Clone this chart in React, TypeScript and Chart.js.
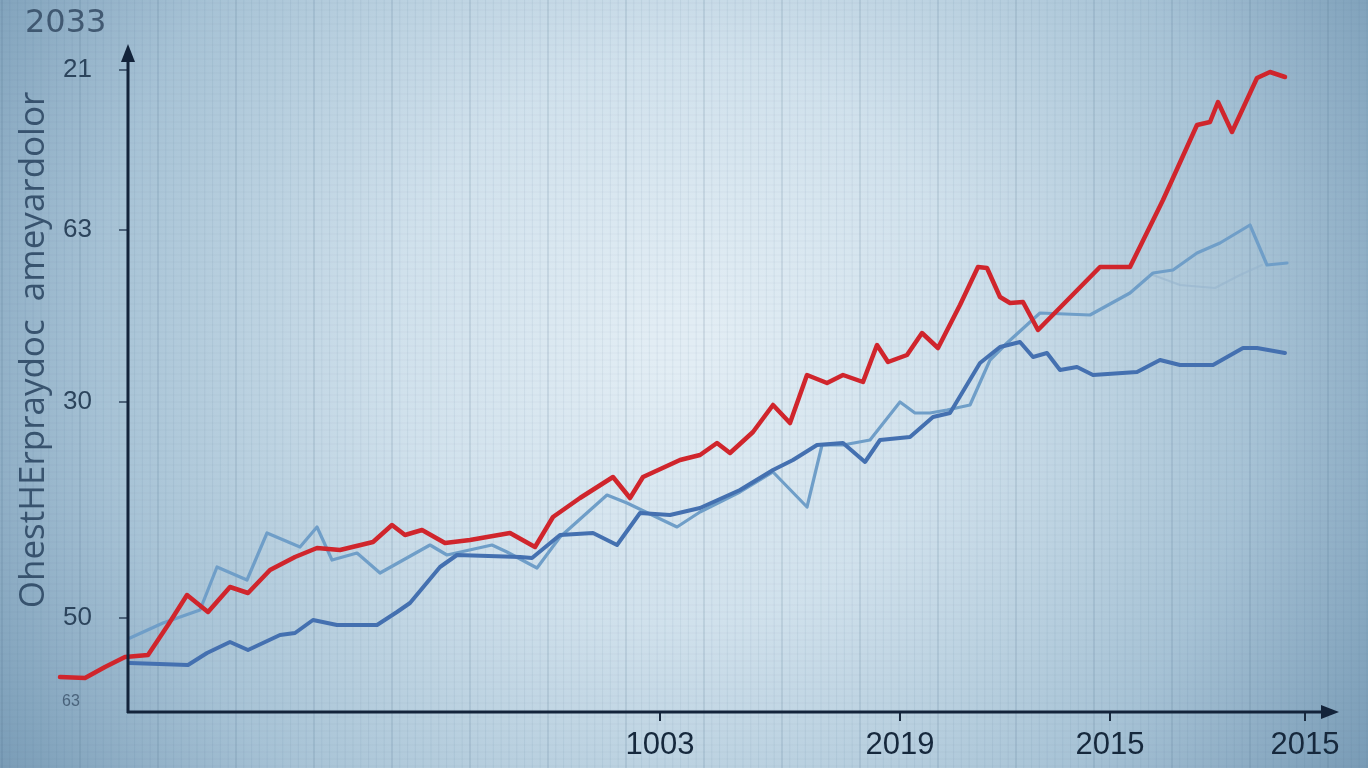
import React, { useEffect, useRef } from "react";
import { Chart, registerables } from "chart.js";

Chart.register(...registerables);

// ---- data ----
const redX = [-6.8, -4.3, -2.3, -0.3, 2.0, 4.0, 5.9, 8.0, 10.2, 12.0, 14.2, 16.7, 18.9, 21.2, 24.5, 26.4, 27.7, 29.4, 31.7, 34.2, 38.2, 40.7, 42.5, 45.2, 48.5, 50.2, 51.5, 55.2, 57.2, 58.9, 60.2, 62.5, 64.5, 66.2, 67.9, 69.9, 71.5, 73.5, 74.9, 76.0, 77.9, 79.4, 81.0, 83.2, 85.0, 85.9, 87.2, 88.2, 89.5, 91.0, 97.2, 100.2, 103.5, 106.9, 108.2, 109.0, 110.4, 112.9, 114.2, 115.7];
const redY = [3.5, 3.4, 4.5, 5.5, 5.7, 8.7, 11.7, 10.0, 12.5, 11.9, 14.2, 15.5, 16.4, 16.2, 17.0, 18.7, 17.7, 18.2, 16.9, 17.2, 17.9, 16.5, 19.5, 21.4, 23.5, 21.4, 23.5, 25.2, 25.7, 26.9, 25.9, 28.0, 30.7, 28.9, 33.7, 32.9, 33.7, 33.0, 36.7, 35.0, 35.7, 37.9, 36.4, 40.7, 44.5, 44.4, 41.5, 40.9, 41.0, 38.2, 44.5, 44.5, 51.2, 58.7, 59.0, 61.0, 58.0, 63.4, 64.0, 63.5];

const darkX = [0.2, 6.0, 7.9, 10.2, 12.0, 15.2, 16.7, 18.5, 20.9, 24.9, 26.9, 28.2, 31.2, 32.9, 39.2, 40.4, 43.2, 46.5, 48.9, 51.2, 54.2, 57.2, 61.2, 64.5, 66.5, 68.9, 71.5, 73.7, 75.2, 78.2, 80.5, 82.2, 85.2, 87.2, 89.2, 90.5, 91.9, 93.2, 94.9, 96.5, 100.9, 103.2, 105.2, 108.5, 111.5, 112.9, 115.7];
const darkY = [4.9, 4.7, 5.9, 7.0, 6.2, 7.7, 7.9, 9.2, 8.7, 8.7, 10.0, 10.9, 14.5, 15.7, 15.5, 15.4, 17.7, 17.9, 16.7, 19.9, 19.7, 20.4, 22.2, 24.2, 25.2, 26.7, 26.9, 25.0, 27.2, 27.5, 29.5, 29.9, 34.9, 36.5, 37.0, 35.5, 35.9, 34.2, 34.5, 33.7, 34.0, 35.2, 34.7, 34.7, 36.4, 36.4, 35.9];

const lightX = [0.2, 3.5, 7.2, 8.9, 11.9, 13.9, 17.2, 18.9, 20.4, 22.9, 25.2, 30.2, 31.9, 36.4, 37.9, 40.9, 43.2, 47.9, 49.9, 54.9, 57.2, 61.2, 64.5, 67.9, 69.4, 71.5, 74.2, 77.2, 78.7, 80.2, 81.9, 84.2, 86.2, 87.9, 91.2, 96.2, 100.2, 102.5, 104.5, 106.9, 109.2, 112.2, 113.9, 115.9];
const lightY = [7.4, 8.9, 10.2, 14.5, 13.2, 17.9, 16.5, 18.5, 15.2, 15.9, 13.9, 16.7, 15.7, 16.7, 16.0, 14.4, 17.5, 21.7, 20.9, 18.5, 20.0, 22.0, 24.0, 20.5, 26.7, 26.7, 27.2, 31.0, 29.9, 29.9, 30.2, 30.7, 35.2, 36.9, 39.9, 39.7, 41.9, 43.9, 44.2, 45.9, 46.9, 48.7, 44.7, 44.9];

const faintX = [102.5, 105.2, 108.7, 111.2, 113.4];
const faintY = [43.7, 42.7, 42.4, 43.7, 44.7];

const xTickValues = [53.2, 77.2, 98.2, 117.7];
const xTickLabels = ["1003", "2019", "2015", "2015"];
const yTickValues = [9.4, 31.0, 48.2, 64.2];
const yTickLabels = ["50", "30", "63", "21"];

const topLabel = "2033";
const yTitle = "OhestHErpraydoc  ameyardolor";
const smallLabel = "63";

const toPoints = (xs: number[], ys: number[]) => xs.map((x, i) => ({ x, y: ys[i] }));

const bgPlugin = {
  id: "bgPlugin",
  beforeDraw(chart: any) {
    const { ctx, width, height } = chart;
    ctx.save();
    const g = ctx.createRadialGradient(680, 340, 30, 680, 340, 880);
    g.addColorStop(0, "#e2edf4");
    g.addColorStop(0.3, "#d0e1ec");
    g.addColorStop(0.65, "#a6c2d5");
    g.addColorStop(1, "#6a8fac");
    ctx.fillStyle = g;
    ctx.fillRect(0, 0, width, height);
    // fine grid
    for (let i = 0, x = 2; x < width; i++, x += 7.8) {
      ctx.strokeStyle = i % 10 === 0 ? "rgba(70,105,135,0.14)" : "rgba(70,105,135,0.08)";
      ctx.lineWidth = i % 10 === 0 ? 2 : 1;
      ctx.beginPath();
      ctx.moveTo(x, 0);
      ctx.lineTo(x, height);
      ctx.stroke();
    }
    ctx.strokeStyle = "rgba(70,105,135,0.05)";
    ctx.lineWidth = 1;
    for (let y = 3; y < height; y += 7) {
      ctx.beginPath();
      ctx.moveTo(0, y);
      ctx.lineTo(width, y);
      ctx.stroke();
    }
    // texts
    ctx.fillStyle = "rgba(45,68,92,0.8)";
    ctx.font = "32px 'DejaVu Sans'";
    ctx.textBaseline = "alphabetic";
    ctx.textAlign = "left";
    ctx.fillText(topLabel, 25, 32);
    ctx.font = "16px 'Liberation Sans'";
    ctx.fillStyle = "rgba(45,68,92,0.7)";
    ctx.fillText(smallLabel, 62, 706);
    ctx.save();
    ctx.translate(34, 350);
    ctx.rotate(-Math.PI / 2);
    ctx.font = "35px 'Open Sans'";
    ctx.fillStyle = "rgba(45,72,100,0.9)";
    ctx.textAlign = "center";
    ctx.textBaseline = "middle";
    ctx.fillText(yTitle, 0, 0);
    ctx.restore();
    ctx.restore();
  },
};

const axesPlugin = {
  id: "axesPlugin",
  afterDatasetsDraw(chart: any) {
    const { ctx, chartArea, scales } = chart;
    const { right, top, bottom } = chartArea;
    const left = scales.x.getPixelForValue(0);
    ctx.save();
    // y tick marks
    ctx.strokeStyle = "rgba(40,60,85,0.7)";
    ctx.lineWidth = 2;
    yTickValues.forEach((v) => {
      const y = scales.y.getPixelForValue(v);
      ctx.beginPath();
      ctx.moveTo(left - 9, y);
      ctx.lineTo(left, y);
      ctx.stroke();
    });
    ctx.strokeStyle = "#13233a";
    ctx.fillStyle = "#13233a";
    ctx.lineWidth = 3;
    ctx.lineCap = "butt";
    ctx.beginPath();
    ctx.moveTo(left, bottom + 1);
    ctx.lineTo(left, top + 8);
    ctx.moveTo(left - 1, bottom);
    ctx.lineTo(right - 6, bottom);
    ctx.stroke();
    ctx.beginPath();
    ctx.moveTo(left, top - 6);
    ctx.lineTo(left - 7, top + 12);
    ctx.lineTo(left + 7, top + 12);
    ctx.closePath();
    ctx.fill();
    ctx.beginPath();
    ctx.moveTo(right + 4, bottom);
    ctx.lineTo(right - 14, bottom - 7);
    ctx.lineTo(right - 14, bottom + 7);
    ctx.closePath();
    ctx.fill();
    ctx.restore();
  },
};

export default function App() {
  const ref = useRef<HTMLCanvasElement | null>(null);
  useEffect(() => {
    if (!ref.current) return;
    const chart = new Chart(ref.current, {
      type: "line",
      data: {
        datasets: [
          {
            label: "red",
            data: toPoints(redX, redY),
            borderColor: "#d0252c",
            borderWidth: 4.5,
            clip: false,
          },
          {
            label: "dark",
            data: toPoints(darkX, darkY),
            borderColor: "#4470b0",
            borderWidth: 4,
            clip: false,
          },
          {
            label: "light",
            data: toPoints(lightX, lightY),
            borderColor: "#6f9ec8",
            borderWidth: 3.2,
            clip: false,
          },
          {
            label: "faint",
            data: toPoints(faintX, faintY),
            borderColor: "rgba(150,180,205,0.6)",
            borderWidth: 2,
            clip: false,
          },
        ] as any,
      },
      options: {
        responsive: false,
        animation: false,
        events: [],
        layout: { padding: { top: 50, right: 33, left: 0, bottom: 0 } },
        elements: {
          point: { radius: 0 },
          line: { tension: 0, borderJoinStyle: "round", borderCapStyle: "round" },
        },
        plugins: { legend: { display: false }, tooltip: { enabled: false }, title: { display: false } },
        scales: {
          x: {
            type: "linear",
            min: -7,
            max: 120.7,
            afterFit: (s: any) => {
              s.height = 56;
            },
            afterBuildTicks: (s: any) => {
              s.ticks = xTickValues.map((v) => ({ value: v }));
            },
            ticks: {
              callback: (_v: any, i: number) => xTickLabels[i],
              color: "#16283c",
              font: { family: "'Liberation Sans'", size: 31 },
              padding: 6,
              maxRotation: 0,
              autoSkip: false,
            },
            grid: { drawOnChartArea: false, drawTicks: true, tickLength: 9, color: "#1a2b40", lineWidth: 2 },
            border: { display: false },
          },
          y: {
            type: "linear",
            min: 0,
            max: 66.2,
            afterFit: (s: any) => {
              s.width = 58;
            },
            afterBuildTicks: (s: any) => {
              s.ticks = yTickValues.map((v) => ({ value: v }));
            },
            ticks: {
              callback: (_v: any, i: number) => yTickLabels[i],
              color: "#2c445c",
              font: { family: "'Liberation Sans'", size: 26 },
              mirror: true,
              padding: 5,
              autoSkip: false,
            },
            grid: { drawOnChartArea: false, drawTicks: false },
            border: { display: false },
          },
        },
      },
      plugins: [bgPlugin, axesPlugin],
    });
    return () => chart.destroy();
  }, []);
  return (
    <div style={{ position: "fixed", left: 0, top: 0, width: 1368, height: 768 }}>
      <canvas ref={ref} width={1368} height={768} style={{ display: "block", width: 1368, height: 768 }} />
    </div>
  );
}
